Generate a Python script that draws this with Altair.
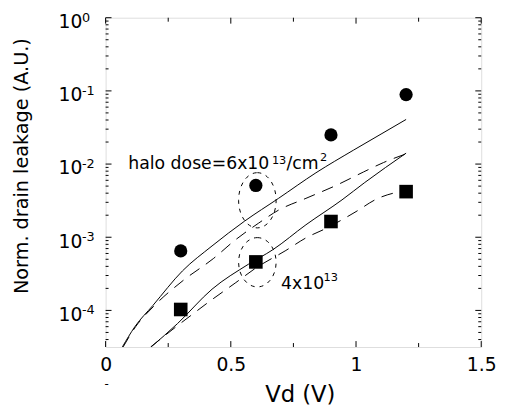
import altair as alt
import pandas as pd

# ---------------- data ----------------
vd_meas = [0.3, 0.6, 0.9, 1.2]
meas_6e13 = [6.5e-4, 5.1e-3, 2.5e-2, 8.9e-2]      # circles
meas_4e13 = [1.03e-4, 4.6e-4, 1.64e-3, 4.2e-3]    # squares

solid_6e13_vd = [0.067, 0.117, 0.189, 0.307, 0.425, 0.555, 0.69, 0.84, 0.99, 1.1, 1.2]
solid_6e13_y = [3.17e-5, 6.0e-5, 1.17e-4, 3.47e-4, 7.6e-4, 1.66e-3, 3.39e-3, 7.6e-3, 1.55e-2, 2.57e-2, 4.07e-2]

dash_6e13_vd = [0.07, 0.12, 0.19, 0.31, 0.43, 0.52, 0.61, 0.69, 0.8, 0.92, 1.03, 1.11, 1.2]
dash_6e13_y = [3.17e-5, 6.0e-5, 1.12e-4, 2.57e-4, 5.1e-4, 9.3e-4, 1.55e-3, 2.34e-3, 3.4e-3, 5.1e-3, 7.8e-3, 1.05e-2, 1.38e-2]

solid_4e13_vd = [0.182, 0.287, 0.425, 0.57, 0.668, 0.8, 0.944, 1.035, 1.2]
solid_4e13_y = [3.17e-5, 6.6e-5, 1.95e-4, 4.27e-4, 6.76e-4, 1.48e-3, 3.24e-3, 5.6e-3, 1.41e-2]

dash_4e13_vd = [0.18, 0.29, 0.34, 0.41, 0.52, 0.6, 0.72, 0.8, 0.88, 1.0, 1.08, 1.2]
dash_4e13_y = [3.17e-5, 6.3e-5, 8.5e-5, 1.29e-4, 2.4e-4, 3.8e-4, 6.6e-4, 9.8e-4, 1.32e-3, 2.24e-3, 3.3e-3, 4.37e-3]

# dotted ellipses around the 0.6 V points (centre)
ellipse_vd = [0.606, 0.606]
ellipse_y = [3.2e-3, 4.55e-4]

# axes
x_domain = [0, 1.5]
y_domain = [3.1623e-5, 1]
x_major = [0, 0.5, 1, 1.5]
x_minor = [0.25, 0.75, 1.25]
y_major = [1e-4, 1e-3, 1e-2, 1e-1, 1]
y_exponents = ["-4", "-3", "-2", "-1", "0"]
y_minor = [k * 10.0 ** d for d in range(-5, 0) for k in range(2, 10) if k * 10.0 ** d > 3.2e-5]

# annotation texts
ann_text = ["halo dose=6x10", "/cm", "4x10"]
ann_vd = [0.0906, 0.722, 0.7008]
ann_y = [8.67e-3, 8.67e-3, 1.97e-4]
sup_text = ["13", "2", "13"]
sup_vd = [0.664, 0.856, 0.870]
sup_y = [1.11e-2, 1.22e-2, 2.81e-4]

W, H = 381, 334
FONT = "DejaVu Sans"

# ---------------- encodings ----------------
X = alt.X("vd:Q", scale=alt.Scale(domain=x_domain, nice=False, zero=False),
          axis=alt.Axis(values=x_major, format="~g", domain=False, ticks=False, grid=False,
                        labelFont=FONT, labelFontSize=19, labelPadding=9, labelColor="black",
                        labelFlush=False,
                        title="Vd (V)", titleFont=FONT, titleFontSize=23, titleFontWeight="normal",
                        titleColor="black", titleX=197, titleY=55, titleBaseline="alphabetic"))
Y = alt.Y("y:Q", scale=alt.Scale(type="log", domain=y_domain, nice=False),
          axis=alt.Axis(values=y_major, labelExpr="'10'", domain=False, ticks=False, grid=False,
                        labelFont=FONT, labelFontSize=19, labelPadding=24, labelColor="black",
                        labelBaseline="middle", labelOffset=4, labelFlush=False,
                        title="Norm. drain leakage (A.U.)", titleFont=FONT, titleFontSize=19.5,
                        titleFontWeight="normal", titleColor="black", titleAngle=270,
                        titleX=-79, titleY=150, titleBaseline="alphabetic", titleAlign="center"))


def curve(vd, y, name):
    return pd.DataFrame({"vd": vd, "y": y, "series": name})


solid_df = pd.concat([curve(solid_6e13_vd, solid_6e13_y, "6e13"),
                      curve(solid_4e13_vd, solid_4e13_y, "4e13")])
dash_df = pd.concat([curve(dash_6e13_vd, dash_6e13_y, "6e13"),
                     curve(dash_4e13_vd, dash_4e13_y, "4e13")])

solid = alt.Chart(solid_df).mark_line(color="black", strokeWidth=1, clip=True,
                                      interpolate="monotone").encode(x=X, y=Y, detail="series:N")
dashed = alt.Chart(dash_df).mark_line(color="black", strokeWidth=1, strokeDash=[12, 8], clip=True,
                                      interpolate="monotone").encode(x=X, y=Y, detail="series:N")

circles = alt.Chart(pd.DataFrame({"vd": vd_meas, "y": meas_6e13})).mark_point(
    shape="circle", filled=True, color="black", size=180, opacity=1).encode(x=X, y=Y)
squares = alt.Chart(pd.DataFrame({"vd": vd_meas, "y": meas_4e13})).mark_point(
    shape="square", filled=True, color="black", size=190, opacity=1).encode(x=X, y=Y)


def ellipse_path(rx):
    k = 0.5523
    return (f"M0,-1 C{k*rx:.3f},-1 {rx:.3f},{-k:.3f} {rx:.3f},0 "
            f"C{rx:.3f},{k:.3f} {k*rx:.3f},1 0,1 "
            f"C{-k*rx:.3f},1 {-rx:.3f},{k:.3f} {-rx:.3f},0 "
            f"C{-rx:.3f},{-k:.3f} {-k*rx:.3f},-1 0,-1 Z")


ell1 = alt.Chart(pd.DataFrame({"vd": ellipse_vd[:1], "y": ellipse_y[:1]})).mark_point(
    shape=ellipse_path(0.68), size=3136, filled=False, stroke="black", strokeWidth=1,
    strokeDash=[4, 5], opacity=1).encode(x=X, y=Y)
ell2 = alt.Chart(pd.DataFrame({"vd": ellipse_vd[1:], "y": ellipse_y[1:]})).mark_point(
    shape=ellipse_path(0.76), size=2500, filled=False, stroke="black", strokeWidth=1,
    strokeDash=[4, 5], opacity=1).encode(x=X, y=Y)

ann = alt.Chart(pd.DataFrame({"vd": ann_vd, "y": ann_y, "t": ann_text})).mark_text(
    align="left", baseline="alphabetic", font=FONT, fontSize=17.5, color="black").encode(
    x=X, y=Y, text="t:N")
sup = alt.Chart(pd.DataFrame({"vd": sup_vd, "y": sup_y, "t": sup_text})).mark_text(
    align="left", baseline="middle", font=FONT, fontSize=11.5, color="black").encode(
    x=X, y=Y, text="t:N")

# exponents of the y tick labels
exps = alt.Chart(pd.DataFrame({"y": y_major, "t": y_exponents})).mark_text(
    align="left", baseline="middle", font=FONT, fontSize=13, color="black").encode(
    x=alt.value(-24), y=Y, text="t:N")

# inward ticks (bottom/top/left/right)
xmaj = pd.DataFrame({"vd": x_major})
xmin = pd.DataFrame({"vd": x_minor})
ymaj = pd.DataFrame({"y": y_major})
ymin = pd.DataFrame({"y": y_minor})
tk = dict(color="black", strokeWidth=1)
ticks = [
    alt.Chart(xmaj).mark_rule(**tk).encode(x=X, y=alt.value(H), y2=alt.value(H - 6)),
    alt.Chart(xmaj).mark_rule(**tk).encode(x=X, y=alt.value(0), y2=alt.value(6)),
    alt.Chart(xmin).mark_rule(**tk).encode(x=X, y=alt.value(H), y2=alt.value(H - 4)),
    alt.Chart(xmin).mark_rule(**tk).encode(x=X, y=alt.value(0), y2=alt.value(4)),
    alt.Chart(ymaj).mark_rule(**tk).encode(y=Y, x=alt.value(0), x2=alt.value(6)),
    alt.Chart(ymaj).mark_rule(**tk).encode(y=Y, x=alt.value(W), x2=alt.value(W - 6)),
    alt.Chart(ymin).mark_rule(**tk).encode(y=Y, x=alt.value(0), x2=alt.value(3)),
    alt.Chart(ymin).mark_rule(**tk).encode(y=Y, x=alt.value(W), x2=alt.value(W - 3)),
]

stray = alt.Chart(pd.DataFrame({"t": ["-"]})).mark_text(
    font=FONT, fontSize=12, color="black").encode(x=alt.value(1), y=alt.value(372), text="t:N")

chart = alt.layer(solid, dashed, circles, squares, ell1, ell2, ann, sup, exps, *ticks, stray).properties(
    width=W, height=H,
    autosize=alt.AutoSizeParams(type="none"),
    padding={"left": 99, "top": 7, "right": 16, "bottom": 58},
).configure_view(stroke="black", strokeWidth=1).configure(background="white")

chart.save("out.html", embed_options={"renderer": "svg", "actions": False})
